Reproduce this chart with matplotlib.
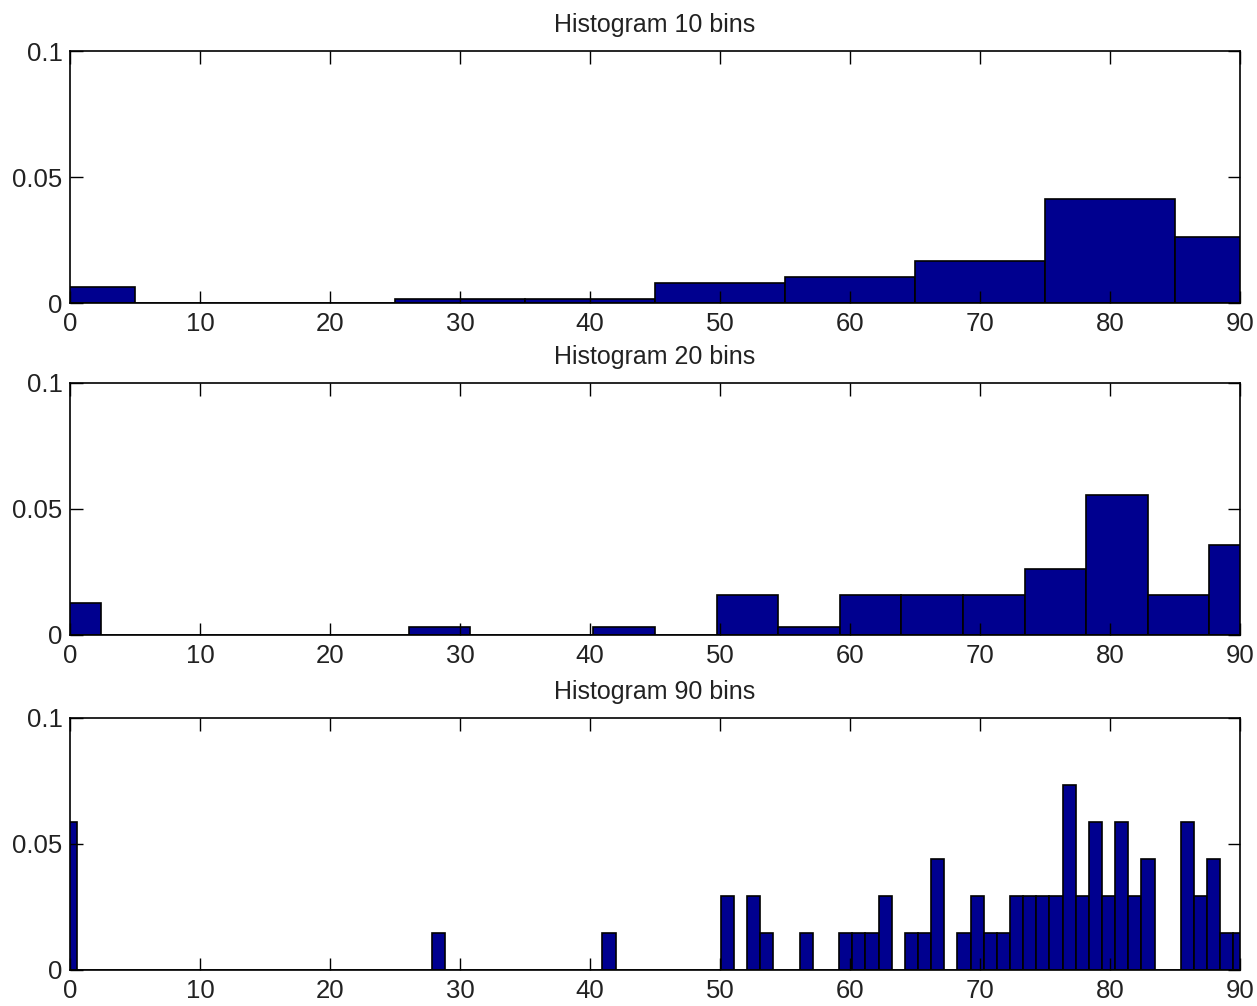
import numpy as np
import matplotlib
matplotlib.use("Agg")
import matplotlib.pyplot as plt
from matplotlib.ticker import FormatStrFormatter

plt.rcParams['font.family'] = ['Liberation Sans', 'DejaVu Sans']

# bin centres run from x_lo to x_hi (MATLAB hist(y, linspace(0,90,n)))
x_lo, x_hi = 0, 90

titles = ['Histogram 10 bins', 'Histogram 20 bins', 'Histogram 90 bins']

h10 = [0.0063, 0, 0, 0.0015, 0.0015, 0.0079, 0.0103, 0.0167, 0.0413, 0.0261]

h20 = [0.0128, 0, 0, 0, 0, 0, 0.0033, 0, 0, 0.0033,
       0, 0.0159, 0.0033, 0.0159, 0.0159, 0.0159, 0.0263, 0.0555, 0.0159, 0.0357]

# 90 bins: counts, one count = 0.0147
unit90 = 0.0147
c90 = [4, 0, 0, 0, 0, 0, 0, 0, 0, 0,
       0, 0, 0, 0, 0, 0, 0, 0, 0, 0,
       0, 0, 0, 0, 0, 0, 0, 0, 1, 0,
       0, 0, 0, 0, 0, 0, 0, 0, 0, 0,
       0, 1, 0, 0, 0, 0, 0, 0, 0, 0,
       2, 0, 2, 1, 0, 0, 1, 0, 0, 1,
       1, 1, 2, 0, 1, 1, 3, 0, 1, 2,
       1, 1, 2, 2, 2, 2, 5, 2, 4, 2,
       4, 2, 3, 0, 0, 4, 2, 3, 1, 1]
h90 = [c * unit90 for c in c90]

xticks = [0, 10, 20, 30, 40, 50, 60, 70, 80, 90]
yticks = [0, 0.05, 0.1]

bar_color = '#00008f'

fig = plt.figure(figsize=(12.57, 10.06), dpi=100)

left, width, height = 0.0557, 0.9308, 0.2505
bottoms = [0.6988, 0.3688, 0.0358]

for title, heights, bottom in zip(titles, [h10, h20, h90], bottoms):
    ax = fig.add_axes([left, bottom, width, height])
    n = len(heights)
    centers = np.linspace(x_lo, x_hi, n)
    w = (x_hi - x_lo) / (n - 1)
    ax.bar(centers, heights, width=w, color=bar_color, edgecolor='black',
           linewidth=1.2)
    ax.set_xlim(x_lo, x_hi)
    ax.set_ylim(0, 0.1)
    ax.set_xticks(xticks)
    ax.set_yticks(yticks)
    ax.yaxis.set_major_formatter(FormatStrFormatter('%g'))
    ax.tick_params(direction='in', length=9, width=1.0, top=True, right=True,
                   labelsize=18.5, color='black', labelcolor='#222222')
    ax.tick_params(axis='x', pad=6.5)
    ax.tick_params(axis='y', pad=5.5)
    for s in ax.spines.values():
        s.set_linewidth(1.2)
    ax.set_title(title, fontsize=18, pad=14, color='#222222')

fig.savefig('out.png', dpi=100)
